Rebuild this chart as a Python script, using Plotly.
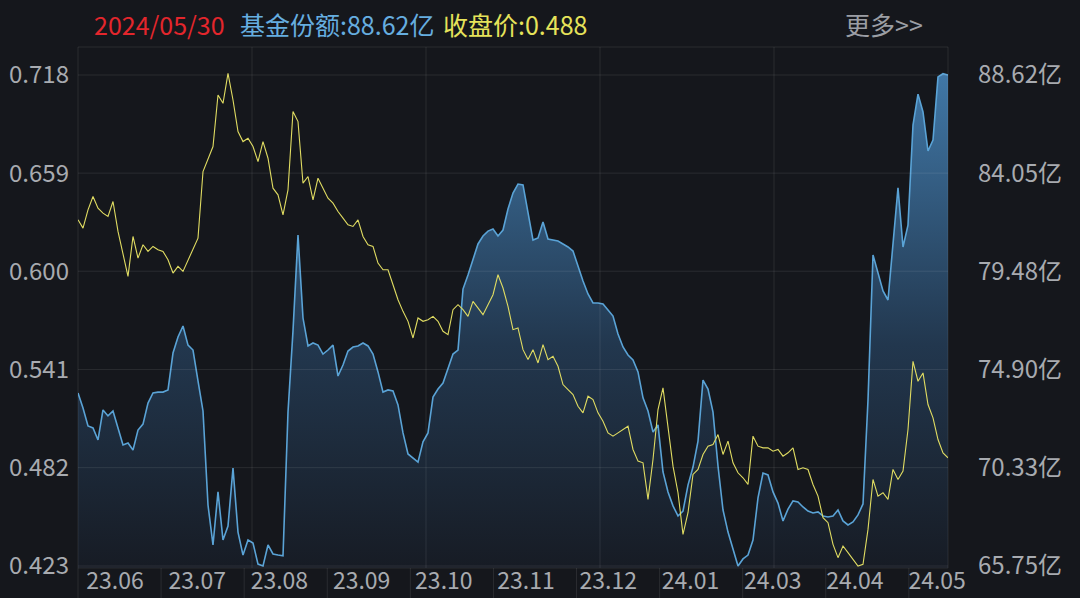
import plotly.graph_objects as go

# ---------------- data ----------------
price = [0.631, 0.626, 0.637, 0.645, 0.638, 0.635, 0.633, 0.642, 0.624, 0.610,
         0.597, 0.621, 0.608, 0.616, 0.612, 0.615, 0.613, 0.612, 0.607, 0.599,
         0.603, 0.600, 0.607, 0.614, 0.620, 0.660, 0.668, 0.675, 0.706, 0.701,
         0.719, 0.703, 0.684, 0.678, 0.680, 0.675, 0.666, 0.678, 0.668, 0.650,
         0.646, 0.634, 0.649, 0.696, 0.690, 0.653, 0.657, 0.643, 0.656, 0.650,
         0.644, 0.641, 0.636, 0.632, 0.628, 0.627, 0.631, 0.621, 0.616, 0.615,
         0.605, 0.601, 0.601, 0.592, 0.583, 0.576, 0.570, 0.560, 0.572, 0.570,
         0.571, 0.573, 0.570, 0.564, 0.562, 0.577, 0.580, 0.577, 0.573, 0.582,
         0.578, 0.574, 0.580, 0.586, 0.598, 0.590, 0.579, 0.565, 0.566, 0.553,
         0.547, 0.553, 0.545, 0.556, 0.547, 0.549, 0.543, 0.532, 0.529, 0.526,
         0.519, 0.515, 0.525, 0.523, 0.515, 0.510, 0.503, 0.501, 0.503, 0.505,
         0.507, 0.493, 0.486, 0.485, 0.463, 0.487, 0.517, 0.530, 0.506, 0.483,
         0.467, 0.442, 0.455, 0.478, 0.481, 0.490, 0.495, 0.496, 0.502, 0.490,
         0.498, 0.485, 0.479, 0.476, 0.472, 0.501, 0.495, 0.494, 0.494, 0.492,
         0.493, 0.489, 0.491, 0.494, 0.481, 0.482, 0.481, 0.472, 0.465, 0.452,
         0.449, 0.436, 0.428, 0.435, 0.431, 0.427, 0.423, 0.424, 0.445, 0.475,
         0.465, 0.467, 0.463, 0.481, 0.475, 0.480, 0.505, 0.546, 0.534, 0.539,
         0.520, 0.512, 0.499, 0.491, 0.488]

share = [73.81, 73.11, 72.27, 72.18, 71.62, 73.02, 72.74, 72.97, 72.18, 71.39,
         71.48, 71.15, 72.08, 72.36, 73.34, 73.81, 73.85, 73.85, 73.95, 75.67,
         76.42, 76.93, 76.04, 75.81, 74.37, 72.97, 68.59, 66.73, 69.20, 66.96,
         67.61, 70.31, 67.33, 66.26, 66.96, 66.82, 65.84, 65.75, 66.73, 66.31,
         66.26, 66.22, 72.92, 76.70, 81.17, 77.30, 76.00, 76.14, 76.04, 75.62,
         75.81, 76.04, 74.60, 75.11, 75.76, 75.95, 76.00, 76.14, 76.00, 75.62,
         74.79, 73.85, 73.95, 73.90, 73.25, 71.95, 70.97, 70.78, 70.59, 71.53,
         71.95, 73.62, 73.99, 74.27, 74.93, 75.62, 75.81, 78.65, 79.30, 80.00,
         80.75, 81.12, 81.35, 81.45, 81.12, 81.40, 82.38, 83.12, 83.54, 83.50,
         82.19, 80.93, 81.03, 81.77, 80.98, 80.93, 80.89, 80.75, 80.61, 80.42,
         79.68, 79.02, 78.42, 78.00, 78.00, 77.95, 77.67, 77.39, 76.56, 75.95,
         75.58, 75.35, 74.79, 73.58, 72.97, 71.99, 72.32, 70.13, 69.20, 68.55,
         68.08, 68.31, 69.52, 70.36, 71.57, 74.41, 73.99, 72.92, 70.41, 68.36,
         67.33, 66.59, 65.75, 66.08, 66.26, 66.96, 68.92, 70.08, 69.99, 69.20,
         68.68, 67.85, 68.40, 68.78, 68.73, 68.50, 68.31, 68.22, 68.27, 68.08,
         68.03, 68.08, 68.36, 67.85, 67.66, 67.80, 68.13, 68.64, 73.48, 80.24,
         79.40, 78.56, 78.14, 80.70, 83.36, 80.61, 81.63, 86.29, 87.73, 86.90,
         85.08, 85.59, 88.53, 88.68, 88.62]

x_labels = ["23.06", "23.07", "23.08", "23.09", "23.10", "23.11",
            "23.12", "24.01", "24.03", "24.04", "24.05"]
price_ticks = [0.423, 0.482, 0.541, 0.600, 0.659, 0.718]
share_ticks = [65.75, 70.33, 74.90, 79.48, 84.05, 88.62]
last_date = "2024/05/30"

# ---------------- styling / layout constants ----------------
W, H = 1080, 598
ML, MR, MT, MB = 78, 132, 47, 30
PLOT_H = H - MT - MB
TICK_SPAN_PX = 491      # distance between lowest and highest tick
PAD_TOP_PX, PAD_BOT_PX = 28, 2

BG = "#15171c"
GRID = "rgba(255,255,255,0.09)"
AX = "#a8abb0"
BLUE = "#5aa3d6"
YELLOW = "#e0dc62"
FONT = "Noto Sans CJK SC"


def axis_range(ticks):
    span = ticks[-1] - ticks[0]
    return [ticks[0] - span * PAD_BOT_PX / TICK_SPAN_PX,
            ticks[-1] + span * PAD_TOP_PX / TICK_SPAN_PX]


n = len(price)
idx = list(range(n))
xmax = n - 1

label_start, label_step = 0.0425, 0.0945
sep_step = 0.0955
label_pos = [xmax * (label_start + i * label_step) for i in range(len(x_labels))]

fig = go.Figure()

fig.add_trace(go.Scatter(
    x=idx, y=share, mode="lines", yaxis="y",
    line=dict(color=BLUE, width=1.6),
    fill="tozeroy",
    fillgradient=dict(type="vertical",
                      colorscale=[[0, "#171c25"], [0.45, "#22374e"], [1, "#4077a6"]],
                      start=share_ticks[0], stop=share_ticks[-1]),
    hoverinfo="skip"))

fig.add_trace(go.Scatter(
    x=idx, y=price, mode="lines", yaxis="y2",
    line=dict(color=YELLOW, width=1.1),
    hoverinfo="skip"))

shapes = []
# horizontal grid lines
for v in share_ticks:
    shapes.append(dict(type="line", xref="paper", yref="y", x0=0, x1=1, y0=v, y1=v,
                       line=dict(color=GRID, width=1), layer="above"))
# vertical grid lines (5 equal divisions)
for i in range(1, 5):
    shapes.append(dict(type="line", xref="paper", yref="paper", x0=i / 5, x1=i / 5,
                       y0=0, y1=1, line=dict(color=GRID, width=1), layer="above"))
# frame
shapes.append(dict(type="rect", xref="paper", yref="paper", x0=0, x1=1, y0=0, y1=1,
                   line=dict(color=GRID, width=1), layer="above"))
# separators in the date strip
for i in range(len(x_labels)):
    xf = i * sep_step
    shapes.append(dict(type="line", xref="paper", yref="paper", x0=xf, x1=xf,
                       y0=0, y1=-MB / PLOT_H, line=dict(color=GRID, width=1)))

def px_to_paper_x(px):
    return (px - ML) / (W - ML - MR)

head_y = 1 + (MT - 24) / PLOT_H
annotations = [
    dict(text=last_date, x=px_to_paper_x(92), font=dict(color="#e3262c")),
    dict(text=f"基金份额:{share[-1]:.2f}亿", x=px_to_paper_x(238), font=dict(color="#66aee0")),
    dict(text=f"收盘价:{price[-1]:.3f}", x=px_to_paper_x(441), font=dict(color="#e6e35a")),
    dict(text="更多>>", x=px_to_paper_x(843), font=dict(color="#9b9ea4")),
]
for a in annotations:
    a.update(xref="paper", yref="paper", y=head_y, xanchor="left", yanchor="middle",
             showarrow=False)
    a["font"].update(family=FONT, size=25)

fig.update_layout(
    width=W, height=H,
    margin=dict(l=ML, r=MR, t=MT, b=MB, pad=0, autoexpand=False),
    paper_bgcolor=BG, plot_bgcolor=BG,
    showlegend=False,
    font=dict(family=FONT, color=AX, size=24),
    xaxis=dict(range=[0, xmax], tickmode="array", tickvals=label_pos, ticktext=x_labels,
               showgrid=False, zeroline=False, showline=False, ticks="", automargin=False,
               tickfont=dict(size=23, color=AX), ticklabelstandoff=-3, fixedrange=True),
    yaxis=dict(side="right", range=axis_range(share_ticks), tickmode="array",
               tickvals=share_ticks, ticktext=[f"{v:.2f}亿" for v in share_ticks],
               showgrid=False, zeroline=False, showline=False, ticks="", automargin=False,
               tickfont=dict(size=24, color=AX), ticklabelstandoff=29),
    yaxis2=dict(side="left", overlaying="y", range=axis_range(price_ticks), tickmode="array",
                tickvals=price_ticks, ticktext=[f"{v:.3f}" for v in price_ticks],
                showgrid=False, zeroline=False, showline=False, ticks="", automargin=False,
                tickfont=dict(size=24, color=AX), ticklabelstandoff=8),
    shapes=shapes,
    annotations=annotations,
)

fig.write_html(
    "out.html",
    config={"displayModeBar": False, "staticPlot": True},
    post_script="document.body.style.margin='0';document.body.style.background='%s';" % BG,
)
